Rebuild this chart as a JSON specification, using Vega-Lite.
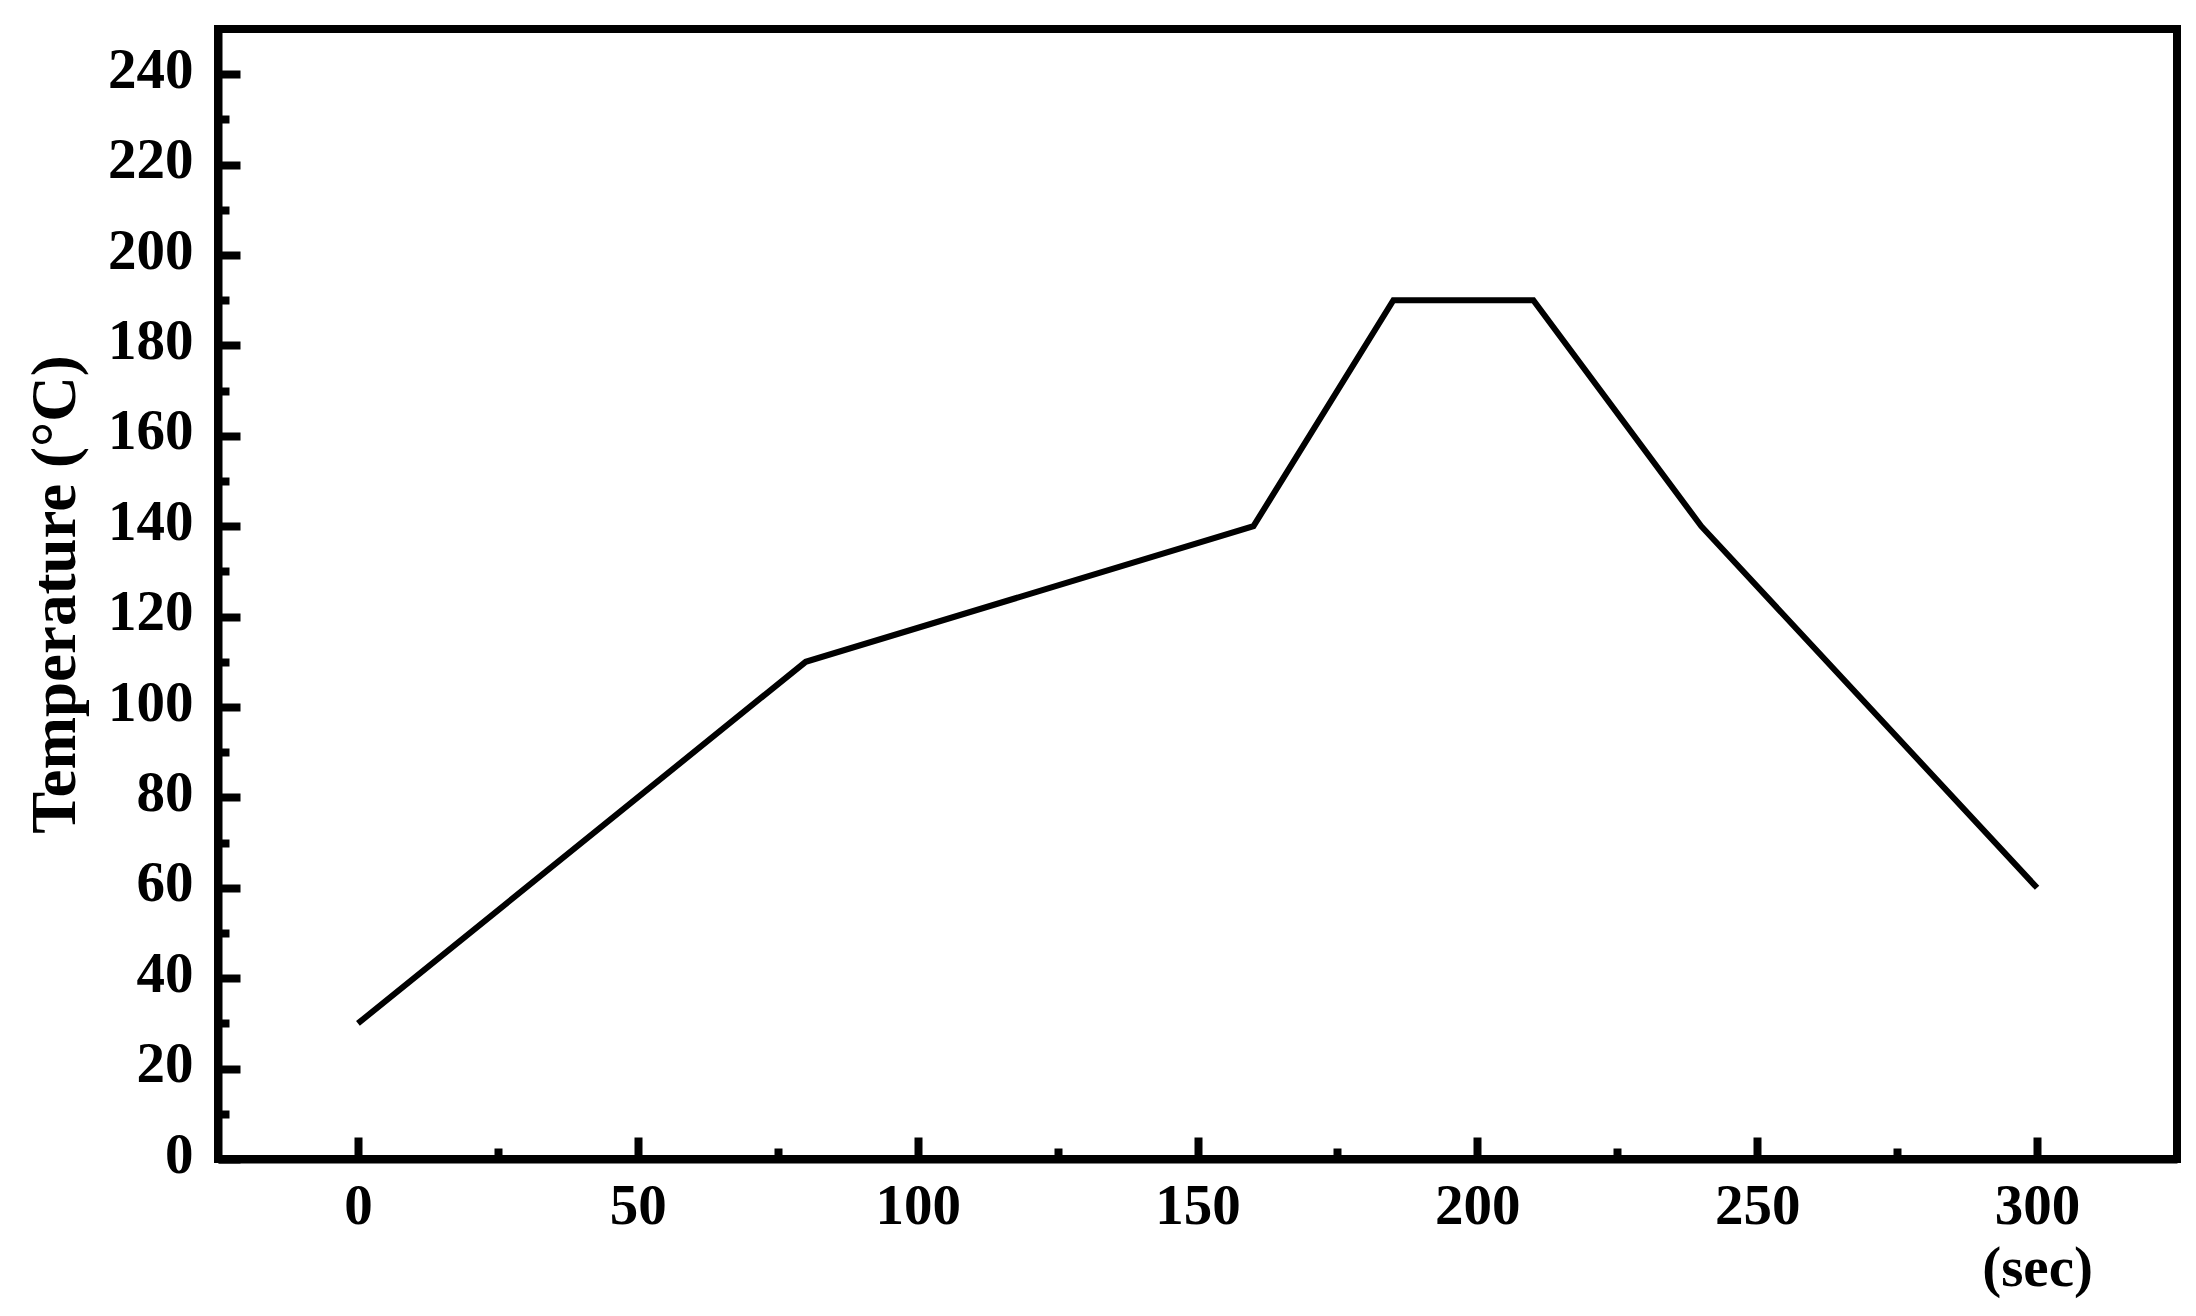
{
  "$schema": "https://vega.github.io/schema/vega-lite/v6.json",
  "width": 1959,
  "height": 1130,
  "autosize": {"type": "none"},
  "padding": {"left": 218, "top": 29, "right": 19, "bottom": 157},
  "background": "white",
  "config": {
    "view": {"stroke": "black", "strokeWidth": 8},
    "font": "Liberation Serif"
  },
  "data": {
    "values": [
      {"time": 0, "temp": 30},
      {"time": 80, "temp": 110},
      {"time": 160, "temp": 140},
      {"time": 185, "temp": 190},
      {"time": 210, "temp": 190},
      {"time": 240, "temp": 140},
      {"time": 300, "temp": 60}
    ]
  },
  "mark": {"type": "line", "color": "black", "strokeWidth": 6, "strokeCap": "butt", "strokeJoin": "miter"},
  "encoding": {
    "x": {
      "field": "time",
      "type": "quantitative",
      "scale": {"domain": [-25, 325], "nice": false, "zero": false},
      "axis": {
        "title": null,
        "values": [0, 25, 50, 75, 100, 125, 150, 175, 200, 225, 250, 275, 300],
        "labelExpr": "datum.value === 300 ? ['300', '(sec)'] : (datum.value % 50 === 0 ? datum.label : '')",
        "labelFont": "Liberation Serif",
        "labelFontWeight": "bold",
        "labelFontSize": 57,
        "labelColor": "black",
        "labelBaseline": "top",
        "labelLineHeight": 62,
        "labelPadding": 41,
        "labelOverlap": false,
        "labelFlush": false,
        "labelBound": false,
        "grid": false,
        "domainColor": "black",
        "domainWidth": 8,
        "tickColor": "black",
        "tickWidth": 8,
        "tickSize": {"condition": {"test": "datum.value % 50 === 0", "value": -22}, "value": -11}
      }
    },
    "y": {
      "field": "temp",
      "type": "quantitative",
      "scale": {"domain": [0, 250], "nice": false, "zero": false},
      "axis": {
        "title": "Temperature (°C)",
        "titleFont": "Liberation Serif",
        "titleFontWeight": "bold",
        "titleFontSize": 63,
        "titleColor": "black",
        "titleX": -163,
        "titleBaseline": "middle",
        "titleAngle": -90,
        "values": [0, 10, 20, 30, 40, 50, 60, 70, 80, 90, 100, 110, 120, 130, 140, 150, 160, 170, 180, 190, 200, 210, 220, 230, 240],
        "labelExpr": "datum.value % 20 === 0 ? datum.label : ''",
        "labelFont": "Liberation Serif",
        "labelFontWeight": "bold",
        "labelFontSize": 57,
        "labelColor": "black",
        "labelPadding": 47,
        "labelOffset": -4,
        "labelOverlap": false,
        "labelFlush": false,
        "labelBound": false,
        "grid": false,
        "domainColor": "black",
        "domainWidth": 8,
        "tickColor": "black",
        "tickWidth": 8,
        "tickSize": {"condition": {"test": "datum.value % 20 === 0", "value": -22}, "value": -11}
      }
    }
  }
}
